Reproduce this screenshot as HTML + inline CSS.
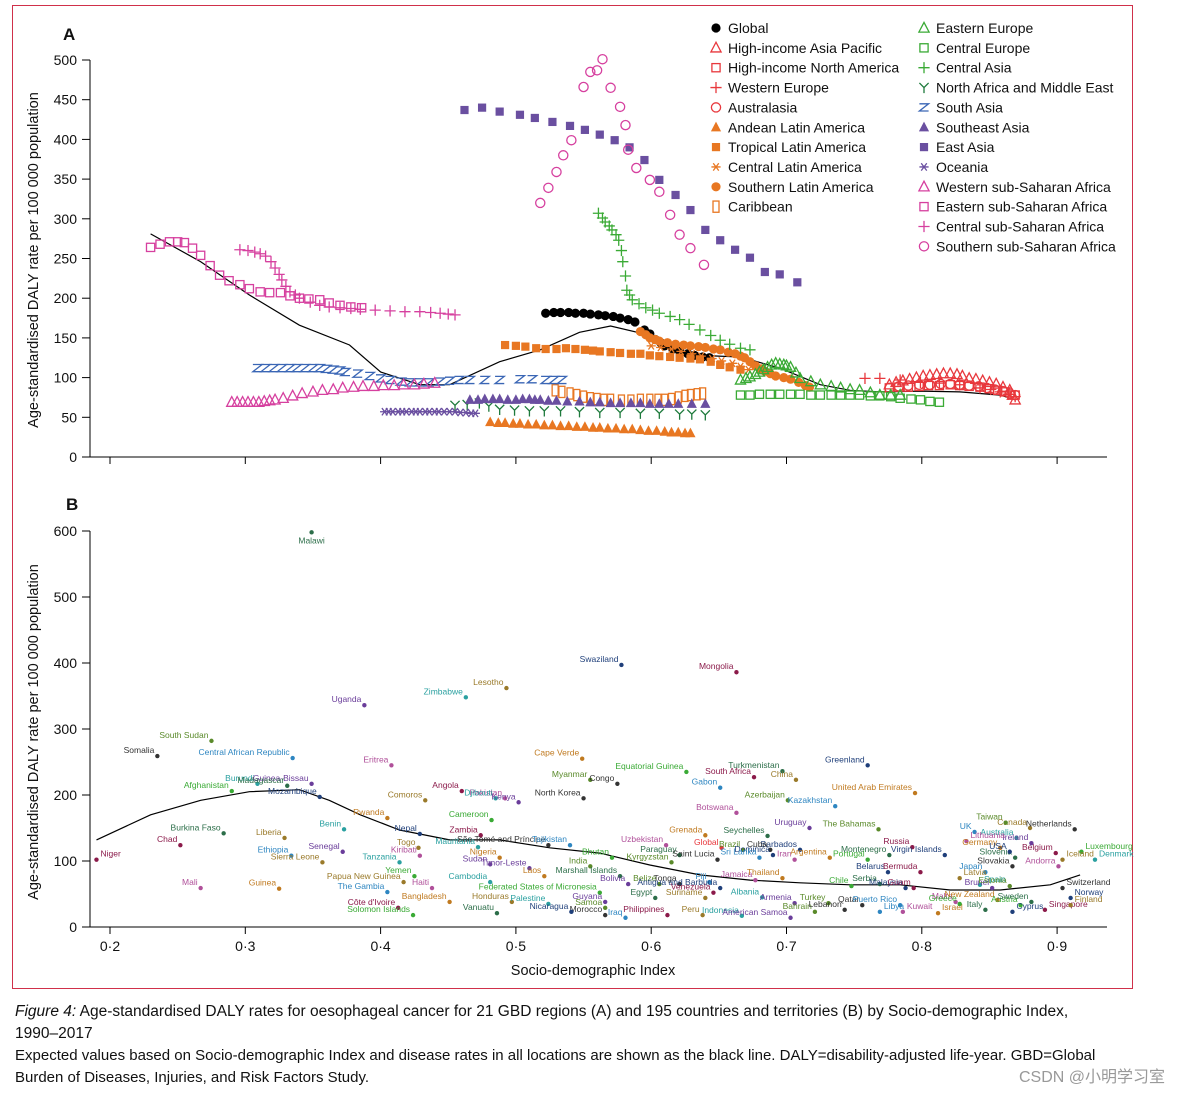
<!DOCTYPE html>
<html><head><meta charset="utf-8">
<style>
html,body{margin:0;padding:0;background:#fff;}
body{width:1179px;height:1095px;overflow:hidden;font-family:"Liberation Sans",sans-serif;}
svg text{font-family:"Liberation Sans",sans-serif;}
</style></head>
<body>
<svg id="fig" width="1179" height="1095" viewBox="0 0 1179 1095" xmlns="http://www.w3.org/2000/svg">
<rect x="12.5" y="5.5" width="1120" height="983" fill="none" stroke="#d0304a" stroke-width="1"/>
<g id="pa"></g>
<g id="pb"></g>
<g id="legend"></g>
<text x="15" y="1016" font-size="15.5" fill="#111"><tspan font-style="italic">Figure 4:</tspan> Age-standardised DALY rates for oesophageal cancer for 21 GBD regions (A) and 195 countries and territories (B) by Socio-demographic Index,</text>
<text x="15" y="1038" font-size="15.5" fill="#111">1990–2017</text>
<text x="15" y="1060" font-size="15" fill="#111">Expected values based on Socio-demographic Index and disease rates in all locations are shown as the black line. DALY=disability-adjusted life-year. GBD=Global</text>
<text x="15" y="1082" font-size="15" fill="#111">Burden of Diseases, Injuries, and Risk Factors Study.</text>
<text x="1165" y="1082" font-size="16" fill="#999" text-anchor="end" font-family="Liberation Sans, Noto Sans CJK SC, sans-serif">CSDN @小明学习室</text>
</svg>
<script>
// ---------- data ----------
const xTicks = [0.2,0.3,0.4,0.5,0.6,0.7,0.8,0.9];
const xTickLabels = ["0·2","0·3","0·4","0·5","0·6","0·7","0·8","0·9"];
const yTicksA = [0,50,100,150,200,250,300,350,400,450,500];
const yTicksB = [0,100,200,300,400,500,600];

const regionNames = ["Global","High-income Asia Pacific","High-income North America","Western Europe","Australasia","Andean Latin America","Tropical Latin America","Central Latin America","Southern Latin America","Caribbean","Eastern Europe","Central Europe","Central Asia","North Africa and Middle East","South Asia","Southeast Asia","East Asia","Oceania","Western sub-Saharan Africa","Eastern sub-Saharan Africa","Central sub-Saharan Africa","Southern sub-Saharan Africa"];
const regionMarkers = ["dot","tri","sq","plus","circ","ftri","fsq","ast","dot","tall","tri","sq","plus","Y","Z","ftri","fsq","ast","tri","sq","plus","circ"];
const regionColors = ["#000","#e8383d","#e8383d","#e8383d","#e8383d","#e87722","#e87722","#e87722","#e87722","#e87722","#3aaa35","#3aaa35","#3aaa35","#1e7a3c","#3a66b5","#6a4fa0","#6a4fa0","#6a4fa0","#d6409f","#d6409f","#d6409f","#d6409f"];

const sGlobal = [[.522,181],[.528,182],[.533,182],[.539,182],[.544,181],[.550,181],[.555,180],[.561,179],[.566,178],[.572,177],[.577,175],[.583,173],[.588,170],[.595,160],[.599,155],[.603,148],[.607,144],[.610,140],[.616,136],[.621,133],[.627,130],[.632,128],[.638,126],[.643,125]];
const sHIAP = [[.776,91],[.781,94],[.786,96],[.791,98],[.796,100],[.801,102],[.806,103],[.811,104],[.816,105],[.821,105],[.826,104],[.830,102],[.835,99],[.840,98],[.845,96],[.850,94],[.855,92],[.860,88],[.865,84],[.867,78],[.869,72]];
const sHINA = [[.776,87],[.783,88],[.790,88],[.798,89],[.805,90],[.813,90],[.821,91],[.828,90],[.835,89],[.843,88],[.850,86],[.856,84],[.862,82],[.869,78]];
const sWEur = [[.758,99],[.769,99],[.784,97],[.799,94],[.813,93],[.828,91],[.843,87],[.851,85],[.858,82],[.864,79],[.869,76]];
const sAustralasia = [[.776,87],[.783,89],[.790,90],[.798,91],[.806,91],[.814,92],[.821,92],[.828,91],[.835,90],[.842,89],[.848,87],[.854,85],[.860,83],[.865,80],[.869,78]];
const sAndean = [[.481,44],[.487,43],[.492,43],[.498,42],[.503,42],[.509,41],[.515,41],[.521,40],[.527,40],[.533,39],[.539,39],[.545,38],[.551,38],[.557,37],[.562,37],[.568,36],[.574,36],[.580,35],[.586,35],[.592,34],[.598,33],[.604,33],[.610,32],[.615,31],[.620,31],[.625,30],[.629,30]];
const sTropical = [[.492,141],[.500,140],[.507,139],[.515,137],[.522,136],[.530,136],[.537,137],[.544,136],[.551,135],[.557,134],[.562,133],[.570,132],[.577,131],[.585,130],[.592,130],[.599,128],[.606,127],[.614,126],[.621,125],[.629,124],[.636,123],[.644,120],[.651,116],[.658,113],[.666,110]];
const sCentralLat = [[.600,140],[.607,138],[.615,136],[.622,133],[.630,130],[.637,127],[.645,124],[.652,121],[.660,118],[.666,114],[.672,110]];
const sSouthernLat = [[.592,158],[.596,154],[.599,150],[.603,148],[.606,146],[.612,144],[.618,142],[.624,141],[.629,140],[.635,139],[.640,138],[.646,136],[.651,135],[.657,132],[.662,130],[.666,127],[.669,125],[.673,120],[.677,115],[.681,111],[.684,108],[.688,105],[.692,102],[.698,100],[.703,98],[.709,94],[.714,90],[.717,88]];
const sCaribbean = [[.529,84],[.534,82],[.540,80],[.545,78],[.550,76],[.555,74],[.560,73],[.565,72],[.570,72],[.578,71],[.585,71],[.592,72],[.599,72],[.605,72],[.610,72],[.615,73],[.620,75],[.625,77],[.629,78],[.634,79],[.638,80]];
const sEEur = [[.666,97],[.670,99],[.673,101],[.677,104],[.680,107],[.683,110],[.686,113],[.689,116],[.692,118],[.695,117],[.698,116],[.700,115],[.703,113],[.707,106],[.710,99],[.718,95],[.725,91],[.733,89],[.740,87],[.747,85],[.754,84],[.762,81],[.769,78],[.777,78],[.784,78]];
const sCEur = [[.666,78],[.673,78],[.680,79],[.688,79],[.695,79],[.703,79],[.710,79],[.718,78],[.725,78],[.733,78],[.740,78],[.747,78],[.754,78],[.762,77],[.769,77],[.777,76],[.784,74],[.792,73],[.799,72],[.806,70],[.813,69]];
const sCAsia = [[.561,307],[.564,301],[.566,296],[.569,291],[.571,286],[.574,280],[.576,273],[.578,260],[.579,246],[.581,228],[.582,210],[.584,204],[.586,198],[.591,193],[.596,188],[.601,185],[.606,181],[.614,177],[.621,173],[.628,167],[.636,160],[.644,153],[.651,147],[.658,142],[.666,137],[.673,135]];
const sNAME = [[.455,65],[.464,66],[.473,68],[.480,64],[.488,60],[.499,59],[.510,58],[.521,58],[.533,58],[.547,57],[.562,56],[.577,56],[.592,55],[.606,55],[.621,54],[.630,54],[.640,53]];
const sSAsia = [[.309,112],[.315,112],[.321,112],[.327,112],[.333,112],[.338,112],[.344,112],[.350,112],[.355,112],[.360,111],[.365,110],[.370,109],[.374,107],[.383,105],[.392,102],[.400,99],[.407,97],[.415,95],[.422,94],[.429,94],[.436,94],[.444,95],[.451,96],[.458,97],[.466,97],[.477,97],[.488,97],[.503,98],[.512,98],[.522,97],[.528,97],[.534,97]];
const sSEAsia = [[.466,72],[.472,72],[.477,73],[.483,73],[.488,73],[.494,72],[.500,72],[.505,73],[.510,73],[.514,72],[.518,72],[.524,71],[.530,71],[.538,70],[.547,70],[.555,69],[.562,69],[.570,68],[.577,68],[.585,68],[.592,68],[.599,67],[.606,67],[.613,67],[.620,67],[.630,67],[.640,67]];
const sEAsia = [[.462,437],[.475,440],[.488,435],[.503,431],[.514,427],[.527,422],[.540,417],[.551,412],[.562,406],[.573,399],[.584,390],[.595,374],[.606,349],[.618,330],[.629,311],[.640,286],[.651,273],[.662,261],[.673,251],[.684,233],[.695,230],[.708,220]];
const sOceania = [[.403,57],[.406,57],[.409,57],[.413,57],[.416,57],[.419,57],[.423,57],[.426,57],[.429,57],[.433,57],[.436,57],[.440,57],[.443,57],[.447,57],[.451,57],[.455,57],[.459,56],[.463,56],[.467,55],[.470,55]];
const sWSSA = [[.290,69],[.294,69],[.298,69],[.302,69],[.306,69],[.310,69],[.314,70],[.318,71],[.322,72],[.328,74],[.335,77],[.342,80],[.350,82],[.357,84],[.365,85],[.372,87],[.380,88],[.387,89],[.395,89],[.402,90],[.410,90],[.417,91],[.425,91],[.432,92],[.440,93]];
const sESSA = [[.230,264],[.237,268],[.244,271],[.250,271],[.255,270],[.261,263],[.267,254],[.274,241],[.281,229],[.288,222],[.296,217],[.303,212],[.311,208],[.318,207],[.326,207],[.333,203],[.340,200],[.347,199],[.355,198],[.362,194],[.370,191],[.378,189],[.386,188]];
const sCSSA = [[.296,261],[.302,260],[.307,258],[.311,256],[.315,253],[.319,246],[.322,238],[.325,230],[.327,223],[.330,215],[.333,208],[.337,204],[.340,200],[.348,195],[.355,191],[.362,189],[.370,188],[.378,187],[.385,186],[.396,185],[.407,184],[.418,183],[.429,183],[.437,182],[.444,181],[.450,180],[.455,179]];
const sSSSA = [[.518,320],[.524,339],[.530,359],[.535,380],[.541,399],[.550,466],[.555,485],[.560,487],[.564,501],[.570,465],[.577,441],[.581,418],[.583,387],[.589,364],[.599,349],[.606,334],[.614,305],[.621,280],[.629,263],[.639,242]];
const regionSeries = [sGlobal,sHIAP,sHINA,sWEur,sAustralasia,sAndean,sTropical,sCentralLat,sSouthernLat,sCaribbean,sEEur,sCEur,sCAsia,sNAME,sSAsia,sSEAsia,sEAsia,sOceania,sWSSA,sESSA,sCSSA,sSSSA];

const expectedA = [[.230,281],[.267,246],[.303,204],[.340,166],[.377,141],[.400,107],[.429,91],[.451,91],[.488,120],[.518,135],[.547,157],[.570,165],[.592,156],[.614,135],[.636,128],[.666,126],[.695,112],[.725,91],[.747,84],[.769,82],[.799,83],[.828,82],[.858,78],[.869,72]];
const expectedB = [[.190,132],[.230,170],[.267,192],[.303,205],[.340,208],[.362,192],[.385,170],[.414,147],[.451,132],[.488,132],[.525,120],[.562,112],[.599,94],[.636,79],[.673,71],[.710,67],[.747,64],[.784,64],[.821,56],[.858,56],[.895,64],[.917,79]];

const countryNames = ["Malawi","Swaziland","Mongolia","Lesotho","Zimbabwe","Uganda","South Sudan","Somalia","Central African Republic","Eritrea","Cape Verde","Equatorial Guinea","Turkmenistan","Greenland","South Africa","China","Burundi","Guinea-Bissau","Myanmar","Congo","Gabon","Pakistan","United Arab Emirates","Afghanistan","Madagascar","Mozambique","Angola","Comoros","Djibouti","Kenya","Azerbaijan","North Korea","Kazakhstan","Botswana","Rwanda","Cameroon","Burkina Faso","Nepal","Zambia","Liberia","Benin","Uruguay","The Bahamas","São Tomé and Príncipe","Tajikistan","Uzbekistan","Grenada","Global","Seychelles","Barbados","Chad","Togo","Mauritania","Senegal","Brazil","Cuba","Ethiopia","Kiribati","Nigeria","Bhutan","Paraguay","Dominica","Russia","Canada","Australia","Ireland","Taiwan","Netherlands","UK","Lithuania","Germany","Luxembourg","Montenegro","Virgin Islands","Niger","Sierra Leone","Tanzania","Sudan","Kyrgyzstan","Saint Lucia","Sri Lanka","Iran","Argentina","Portugal","Slovenia","USA","Belgium","Iceland","Denmark","Timor-Leste","India","Slovakia","Japan","Andorra","Laos","Yemen","Marshall Islands","Belarus","Bermuda","Papua New Guinea","Cambodia","Bolivia","Belize","Tonga","Fiji","Jamaica","Thailand","Chile","Serbia","Malaysia","Guam","Latvia","Spain","Brunei","Estonia","Switzerland","The Gambia","Haiti","Bangladesh","Federated States of Micronesia","Egypt","Antigua and Barbuda","Venezuela","Suriname","Albania","Armenia","Turkey","Qatar","Puerto Rico","Malta","New Zealand","Austria","Sweden","Norway","Côte d'Ivoire","Honduras","Palestine","Guyana","Samoa","Morocco","Iraq","Mali","Guinea","Solomon Islands","Vanuatu","Nicaragua","Philippines","Peru","Indonesia","American Samoa","Bahrain","Lebanon","Libya","Kuwait","Israel","Greece","Italy","Cyprus","Singapore","Finland"];
const countrySDI = [.349,.578,.663,.493,.463,.388,.275,.235,.335,.408,.549,.626,.697,.760,.676,.707,.309,.349,.555,.575,.651,.492,.795,.290,.331,.355,.460,.433,.485,.502,.701,.550,.736,.663,.405,.482,.284,.429,.474,.329,.373,.717,.768,.524,.540,.611,.640,.652,.686,.710,.252,.428,.472,.372,.668,.688,.334,.429,.488,.571,.621,.690,.793,.880,.870,.881,.862,.913,.839,.833,.858,.918,.776,.817,.190,.357,.414,.481,.615,.649,.680,.706,.732,.760,.869,.865,.899,.904,.928,.510,.555,.867,.847,.901,.521,.425,.577,.775,.799,.417,.481,.583,.606,.621,.643,.677,.697,.748,.769,.788,.794,.828,.843,.852,.865,.904,.405,.438,.451,.562,.603,.651,.646,.640,.682,.706,.731,.756,.784,.825,.856,.873,.881,.910,.413,.497,.524,.566,.566,.566,.581,.267,.325,.424,.486,.541,.612,.638,.667,.703,.721,.743,.769,.786,.812,.828,.847,.867,.891,.910];
const countryDALY = [598,397,386,362,348,336,282,259,256,245,255,235,236,245,227,223,217,217,223,217,211,195,203,206,214,197,206,192,195,189,192,195,183,173,165,162,142,141,139,135,148,150,148,124,124,124,139,120,138,117,124,120,121,114,117,117,108,108,105,105,109,109,121,150,135,127,158,148,144,130,120,114,109,109,102,98,98,95,98,102,105,102,105,102,105,114,112,102,102,89,92,92,83,92,77,77,77,83,83,68,68,65,65,65,68,71,74,62,65,59,59,74,64,59,62,59,53,59,38,52,44,59,52,44,45,36,36,33,33,38,41,33,38,44,29,38,35,38,29,18,14,59,58,18,21,23,18,18,17,14,23,26,23,23,21,35,26,23,26,33];
const labelRight = ["Niger","Lithuania","Luxembourg","Denmark","Iceland","Switzerland","Norway","Finland","Singapore","Malawi","Cyprus","Israel","Libya","Kuwait","Spain","Latvia"];

// ---------- helpers ----------
const NS = "http://www.w3.org/2000/svg";
const X0 = 110, XS = 1353;
function sx(v){ return X0 + (v - 0.2) * XS; }
function syA(v){ return 457 - v * 0.794; }
function syB(v){ return 927 - v * 0.66; }
function mk(tag, attrs, parent){
  const e = document.createElementNS(NS, tag);
  for (const k in attrs) e.setAttribute(k, attrs[k]);
  parent.appendChild(e);
  return e;
}
function marker(g, type, x, y, c){
  const s = 4.6;
  let e;
  if (type === "dot") e = mk("circle", {cx:x, cy:y, r:s, fill:c}, g);
  else if (type === "circ") e = mk("circle", {cx:x, cy:y, r:s, fill:"none", stroke:c, "stroke-width":1.3}, g);
  else if (type === "tri") e = mk("polygon", {points:`${x},${y-s-1} ${x-s-0.5},${y+s-0.5} ${x+s+0.5},${y+s-0.5}`, fill:"none", stroke:c, "stroke-width":1.3}, g);
  else if (type === "ftri") e = mk("polygon", {points:`${x},${y-s-1} ${x-s-0.5},${y+s-0.5} ${x+s+0.5},${y+s-0.5}`, fill:c}, g);
  else if (type === "sq") e = mk("rect", {x:x-s+0.5, y:y-s+0.5, width:2*s-1, height:2*s-1, fill:"none", stroke:c, "stroke-width":1.3}, g);
  else if (type === "fsq") e = mk("rect", {x:x-s+0.5, y:y-s+0.5, width:2*s-1, height:2*s-1, fill:c}, g);
  else if (type === "tall") e = mk("rect", {x:x-3, y:y-s-1, width:6, height:2*s+2, fill:"none", stroke:c, "stroke-width":1.3}, g);
  else if (type === "plus") e = mk("path", {d:`M${x-s-1},${y}H${x+s+1}M${x},${y-s-1}V${y+s+1}`, stroke:c, "stroke-width":1.3, fill:"none"}, g);
  else if (type === "ast") e = mk("path", {d:`M${x-s},${y}H${x+s}M${x-s*0.6},${y-s*0.8}L${x+s*0.6},${y+s*0.8}M${x+s*0.6},${y-s*0.8}L${x-s*0.6},${y+s*0.8}`, stroke:c, "stroke-width":1.3, fill:"none"}, g);
  else if (type === "Y") e = mk("path", {d:`M${x-s},${y-s}L${x},${y}L${x+s},${y-s}M${x},${y}V${y+s+1}`, stroke:c, "stroke-width":1.3, fill:"none"}, g);
  else if (type === "Z") e = mk("path", {d:`M${x-s},${y-s+1}H${x+s}L${x-s},${y+s-1}H${x+s}`, stroke:c, "stroke-width":1.3, fill:"none"}, g);
  return e;
}
function axes(g, ys, yTicks, yTop, yBot, tickLabelsX, titleY){
  const ax = mk("path", {d:`M90,${yTop}V${yBot}H1107`, stroke:"#000", "stroke-width":1, fill:"none"}, g);
  
  
  yTicks.forEach(v => {
    const t = mk("line", {x1:82, x2:90, y1:ys(v), y2:ys(v), stroke:"#000"}, g);
    
    
    const l = mk("text", {x:77, y:ys(v)+5, "font-size":14, "text-anchor":"end", fill:"#111"}, g);
    l.textContent = v;
    
    
  });
  xTicks.forEach((v,i) => {
    const t = mk("line", {x1:sx(v), x2:sx(v), y1:yBot, y2:yBot+7, stroke:"#000"}, g);
    
    
    if (tickLabelsX){
      const l = mk("text", {x:sx(v), y:yBot+24, "font-size":14, "text-anchor":"middle", fill:"#111"}, g);
      l.textContent = xTickLabels[i];
      
      
    }
  });
  const yt = mk("text", {x:0, y:0, "font-size":14.5, "text-anchor":"middle", fill:"#111", transform:`translate(38,${titleY}) rotate(-90)`}, g);
  yt.textContent = "Age-standardised DALY rate per 100 000 population";
  
  
}
function line(g, pts, ys){
  const d = pts.map((p,i) => (i ? "L" : "M") + sx(p[0]).toFixed(1) + "," + ys(p[1]).toFixed(1)).join("");
  const e = mk("path", {d:d, stroke:"#000", "stroke-width":1.2, fill:"none"}, g);
  
  
}

// ---------- panel A ----------
const pa = document.getElementById("pa");
const aL = mk("text", {x:63, y:40, "font-size":17, "font-weight":"bold", fill:"#111"}, pa);
aL.textContent = "A";


axes(pa, syA, yTicksA, 60, 457, false, 260);
line(pa, expectedA, syA);
regionSeries.forEach((ser, i) => {
  const g = mk("g", {}, pa);
  
  
  ser.forEach(p => marker(g, regionMarkers[i], sx(p[0]), syA(p[1]), regionColors[i]));
});

// ---------- legend ----------
const lg = document.getElementById("legend");
regionNames.forEach((n, i) => {
  const col = i < 10 ? 0 : 1;
  const row = i < 10 ? i : i - 10;
  const mx = col ? 924 : 716, y = 28 + row * 19.85;
  const g = mk("g", {}, lg);
  
  
  marker(g, regionMarkers[i], mx, y, regionColors[i]);
  const t = mk("text", {x:mx+12, y:y+5, "font-size":14, fill:"#111"}, g);
  t.textContent = n;
});

// ---------- panel B ----------
const pb = document.getElementById("pb");
const bL = mk("text", {x:66, y:510, "font-size":17, "font-weight":"bold", fill:"#111"}, pb);
bL.textContent = "B";


axes(pb, syB, yTicksB, 531, 927, true, 732);
const xt = mk("text", {x:593, y:975, "font-size":14.5, "text-anchor":"middle", fill:"#111"}, pb);
xt.textContent = "Socio-demographic Index";


line(pb, expectedB, syB);
const palette = ["#2c6e49","#1f3f7a","#8b1a4a","#9a7a2a","#2aa0a0","#6a3d9a","#5a8a2a","#333","#2e86c1","#b0509a","#c07a20","#3aaa35"];
countryNames.forEach((n, i) => {
  const c = n === "Global" ? "#e8383d" : palette[i % palette.length];
  const x = sx(countrySDI[i]), y = syB(countryDALY[i]);
  const g = mk("g", {}, pb);
  
  
  mk("circle", {cx:x, cy:y, r:2.2, fill:c}, g);
  const right = labelRight.includes(n);
  const below = n === "Malawi";
  const t = mk("text", {x: below ? x : (right ? x+4 : x-3), y: below ? y+11 : y-3, "font-size":8.5, "text-anchor": below ? "middle" : (right ? "start" : "end"), fill:c}, g);
  t.textContent = n;
});
</script>
</body></html>
